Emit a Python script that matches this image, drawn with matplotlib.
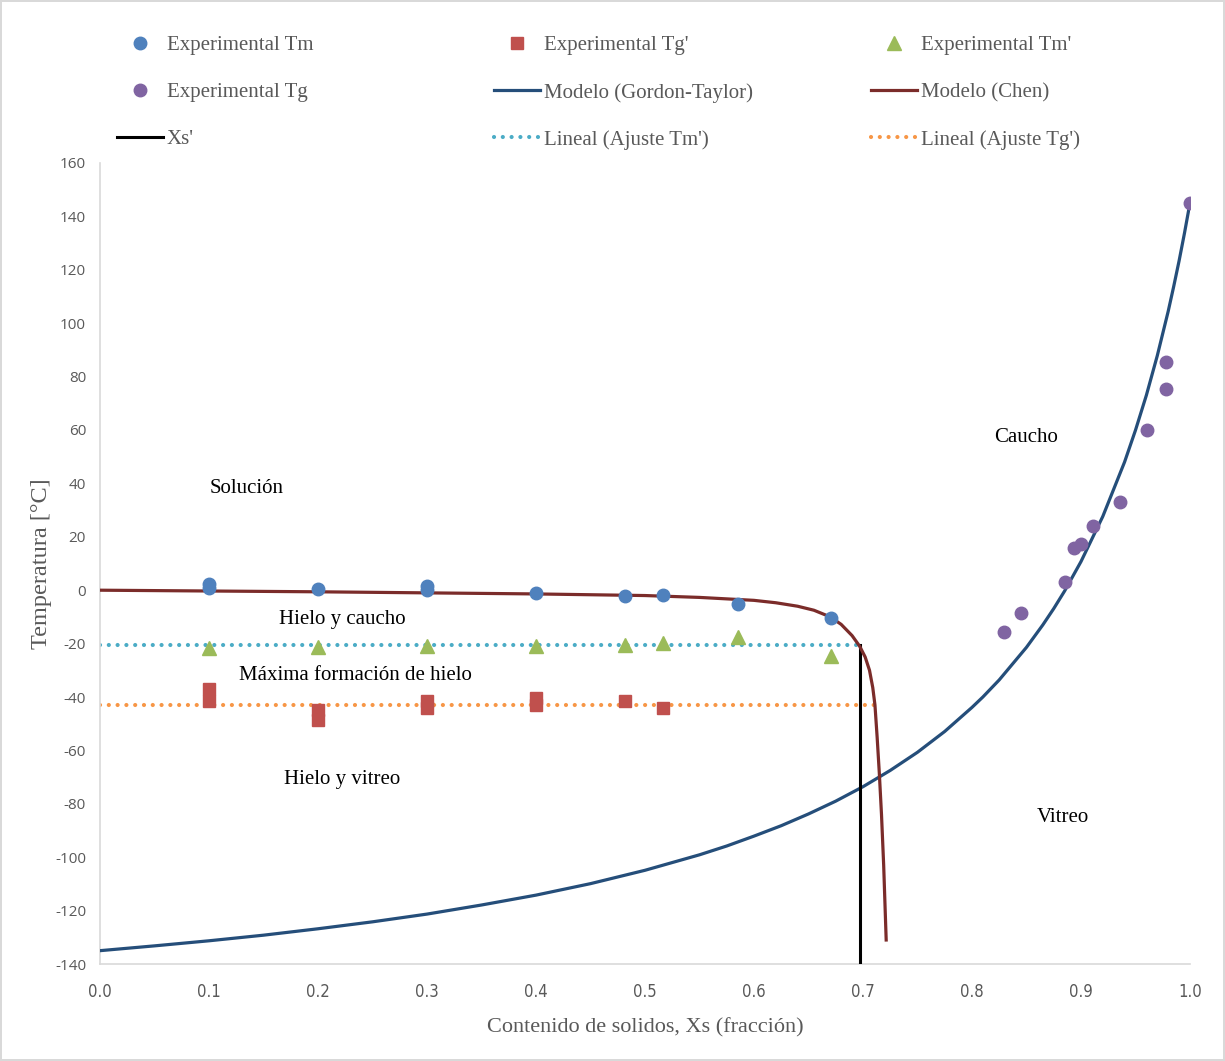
"""State diagram: Tm, Tg', Tm', Tg with Gordon-Taylor and Chen models."""

import matplotlib
matplotlib.use("Agg")
import matplotlib.pyplot as plt
from matplotlib.lines import Line2D

# experimental points
tm_x = [0.1, 0.1, 0.2, 0.3, 0.3, 0.4, 0.482, 0.517, 0.585, 0.671]
tm_y = [1.0, 2.2, 0.4, 0.0, 1.5, -1.2, -2.2, -1.9, -5.2, -10.5]

tgp_x = [0.1, 0.1, 0.2, 0.2, 0.3, 0.3, 0.4, 0.4, 0.482, 0.517]
tgp_y = [-37.0, -41.5, -45.0, -48.5, -41.5, -44.0, -40.5, -43.0, -41.5, -44.0]

tmp_x = [0.1, 0.2, 0.3, 0.4, 0.482, 0.517, 0.585, 0.671]
tmp_y = [-21.5, -21.3, -20.8, -21.0, -20.5, -19.8, -17.5, -24.8]

tg_x = [0.829, 0.845, 0.885, 0.894, 0.900, 0.911, 0.936, 0.961, 0.978, 0.978, 1.0]
tg_y = [-15.7, -8.6, 3.0, 15.7, 17.2, 24.0, 33.0, 60.0, 75.3, 85.4, 145.0]

# model curves
gt_x = [0.0, 0.05, 0.1, 0.15, 0.2, 0.25, 0.3, 0.35, 0.4, 0.45, 0.5, 0.55, 0.575,
        0.6, 0.625, 0.65, 0.675, 0.7, 0.725, 0.75, 0.775, 0.8, 0.81, 0.825, 0.85,
        0.865, 0.875, 0.885, 0.9, 0.92, 0.94, 0.95, 0.96, 0.97, 0.98, 0.985, 0.99,
        0.995, 1.0]
gt_y = [-135.0, -133.2, -131.3, -129.2, -126.8, -124.2, -121.3, -117.9, -114.2,
        -109.9, -104.9, -99.1, -95.8, -92.1, -88.2, -83.8, -79.0, -73.6, -67.5,
        -60.7, -52.9, -43.9, -40.0, -33.6, -21.4, -13.0, -6.9, -0.3, 10.7, 27.6,
        48.0, 59.9, 73.0, 87.8, 104.4, 113.6, 123.3, 133.8, 145.0]

chen_x = [0.0, 0.1, 0.2, 0.3, 0.4, 0.5, 0.55, 0.6, 0.62, 0.64, 0.655, 0.67, 0.68,
          0.69, 0.697, 0.702, 0.706, 0.709, 0.711, 0.713, 0.715, 0.717, 0.719, 0.7213]
chen_y = [0.0, -0.3, -0.6, -1.0, -1.4, -2.0, -2.7, -3.8, -4.7, -6.0, -7.5, -10.0,
          -12.8, -17.0, -21.0, -25.0, -30.0, -36.5, -43.0, -55.0, -68.5, -84.0,
          -103.0, -131.0]

xs_x = [0.697, 0.697]
xs_y = [-20.5, -140.0]

fit_tm_x = [0.0, 0.695]
fit_tm_y = [-20.5, -20.5]
fit_tg_x = [0.0, 0.711]
fit_tg_y = [-43.0, -43.0]

regions = ["Solución", "Hielo y caucho", "Máxima formación de hielo",
           "Hielo y vitreo", "Caucho", "Vitreo"]
region_xy = [(0.135, 38), (0.222, -11), (0.234, -32), (0.222, -71), (0.85, 57), (0.883, -85)]

GRAY = "#595959"
SERIF = ["Liberation Serif", "DejaVu Serif"]

fig = plt.figure(figsize=(12.25, 10.61), dpi=100)
fig.patch.set_edgecolor("#D9D9D9")
fig.patch.set_linewidth(1.5)
ax = fig.add_axes([0.0816, 0.0914, 0.8898, 0.755])

dot = (0, (0.01, 2.1))
ax.plot(fit_tm_x, fit_tm_y, color="#4BACC6", lw=3.0, linestyle=dot,
        dash_capstyle="round", zorder=2)
ax.plot(fit_tg_x, fit_tg_y, color="#F79646", lw=3.0, linestyle=dot,
        dash_capstyle="round", zorder=2)
ax.plot(gt_x, gt_y, color="#254E7A", lw=2.3, zorder=3)
ax.plot(xs_x, xs_y, color="black", lw=2.2, zorder=3)
ax.plot(chen_x, chen_y, color="#7B2C2A", lw=2.3, zorder=4)

ax.plot(tm_x, tm_y, "o", color="#4F81BD", ms=9, zorder=5)
ax.plot(tgp_x, tgp_y, "s", color="#C0504D", ms=8.5, zorder=5)
ax.plot(tmp_x, tmp_y, "^", color="#9BBB59", ms=9.5, zorder=5)
ax.plot(tg_x, tg_y, "o", color="#8064A2", ms=9, zorder=5)

for label, (x, y) in zip(regions, region_xy):
    ax.text(x, y, label, ha="center", va="center", fontsize=15, family=SERIF,
            color="black")

ax.set_xlim(0.0, 1.0)
ax.set_ylim(-140, 160)
ax.set_xticks([i / 10 for i in range(11)])
ax.set_xticklabels([f"{i / 10:.1f}" for i in range(11)], fontsize=12, color=GRAY,
                   family=["DejaVu Sans"], fontstretch="condensed")
ax.set_yticks(range(-140, 161, 20))
ax.set_yticklabels([str(v) for v in range(-140, 161, 20)],
                   family=["Open Sans", "DejaVu Sans"], fontsize=11, color=GRAY)
ax.tick_params(length=0)
ax.tick_params(axis="x", pad=14)
ax.tick_params(axis="y", pad=10)

for side in ["top", "right"]:
    ax.spines[side].set_visible(False)
for side in ["left", "bottom"]:
    ax.spines[side].set_color("#D9D9D9")
    ax.spines[side].set_linewidth(1.2)

ax.set_xlabel("Contenido de solidos, Xs (fracción)", family=SERIF, fontsize=16,
              color=GRAY, labelpad=12)
ax.set_ylabel("Temperatura [°C]", family=SERIF, fontsize=17.5, color=GRAY, labelpad=2)

# legend: three equal-width columns like the original
h_tm = Line2D([], [], ls="", marker="o", color="#4F81BD", ms=9)
h_tgp = Line2D([], [], ls="", marker="s", color="#C0504D", ms=8.5)
h_tmp = Line2D([], [], ls="", marker="^", color="#9BBB59", ms=9.5)
h_tg = Line2D([], [], ls="", marker="o", color="#8064A2", ms=9)
h_gt = Line2D([], [], color="#254E7A", lw=2.3)
h_chen = Line2D([], [], color="#7B2C2A", lw=2.3)
h_xs = Line2D([], [], color="black", lw=2.2)
h_ftm = Line2D([], [], color="#4BACC6", lw=3.0, ls=dot, dash_capstyle="round")
h_ftg = Line2D([], [], color="#F79646", lw=3.0, ls=dot, dash_capstyle="round")

columns = [
    ([h_tm, h_tg, h_xs], ["Experimental Tm", "Experimental Tg", "Xs'"], 0.080),
    ([h_tgp, h_gt, h_ftm], ["Experimental Tg'", "Modelo (Gordon-Taylor)",
                            "Lineal (Ajuste Tm')"], 0.3878),
    ([h_tmp, h_chen, h_ftg], ["Experimental Tm'", "Modelo (Chen)",
                              "Lineal (Ajuste Tg')"], 0.6955),
]
for handles, labels, x0 in columns:
    leg = fig.legend(handles, labels, ncol=1, loc="upper left",
                     bbox_to_anchor=(x0, 0.984), frameon=False,
                     prop={"family": SERIF, "size": 15}, handlelength=2.2,
                     handletextpad=0.2, labelspacing=1.32)
    for t in leg.get_texts():
        t.set_color(GRAY)

fig.savefig("out.png", dpi=100)
